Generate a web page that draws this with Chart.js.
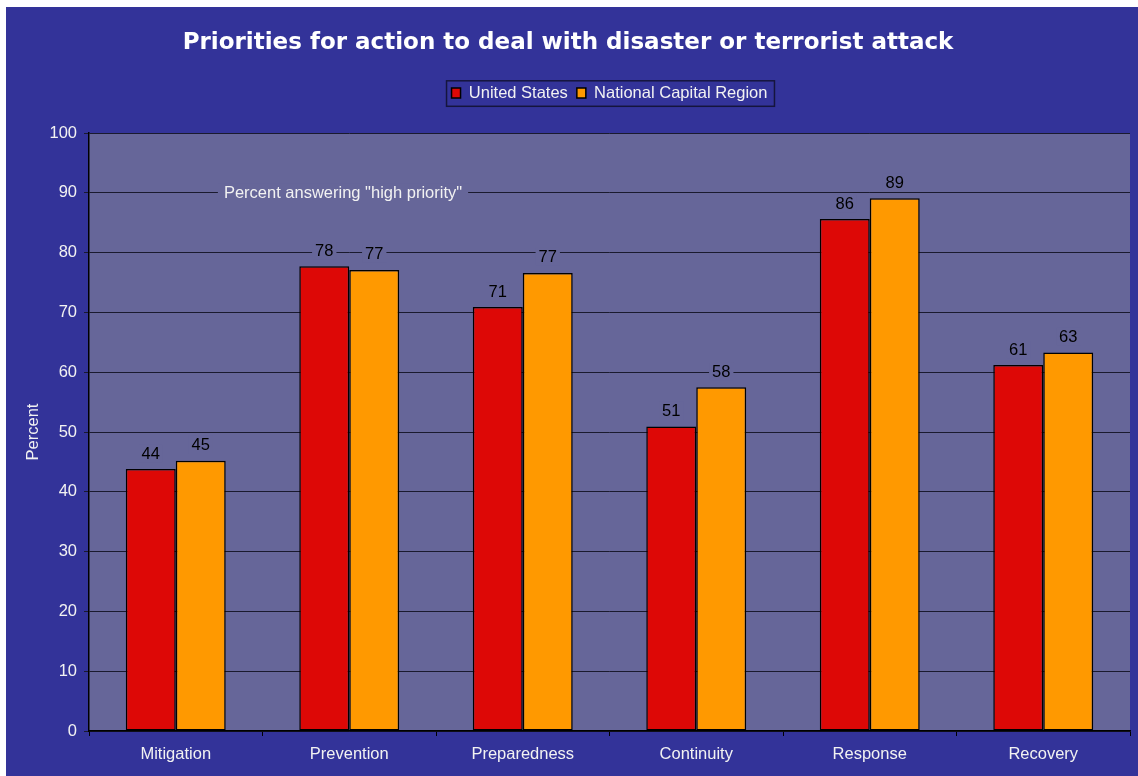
<!DOCTYPE html>
<html>
<head>
<meta charset="utf-8">
<title>Priorities for action</title>
<script src="https://cdn.jsdelivr.net/npm/chart.js@4.4.1/dist/chart.umd.min.js"></script>
<style>
  html, body { margin: 0; padding: 0; background: #fff; }
  #wrap { position: absolute; left: 6px; top: 7px; width: 1132px; height: 769px; }
</style>
</head>
<body>
<div id="wrap"><canvas id="grafik"></canvas></div>
<script>
// percent answering "high priority"
const categories = ['Mitigation', 'Prevention', 'Preparedness', 'Continuity', 'Response', 'Recovery'];
const unitedStates = [43.8, 77.7, 70.9, 50.9, 85.6, 61.2];
const capitalRegion = [45.2, 77.1, 76.6, 57.5, 89.1, 63.3];
const yTicks = [0, 10, 20, 30, 40, 50, 60, 70, 80, 90, 100];

const outerColor = '#333399';
const plotColor = '#666699';
const gridColor = '#1a1a2e';
const textFont = '"Liberation Sans", Arial, sans-serif';

// fill the outer and plot backgrounds
const backgrounds = {
  id: 'backgrounds',
  beforeDraw(chart) {
    const { ctx, chartArea: a } = chart;
    ctx.save();
    ctx.fillStyle = outerColor;
    ctx.fillRect(0, 0, chart.width, chart.height);
    ctx.fillStyle = plotColor;
    ctx.fillRect(a.left, a.top, a.right - a.left, a.bottom - a.top);
    ctx.restore();
  }
};

// value labels above bars + note line, each on a plot-coloured patch
const barLabels = {
  id: 'barLabels',
  afterDatasetsDraw(chart) {
    const ctx = chart.ctx;
    ctx.save();
    ctx.font = '16.5px ' + textFont;
    ctx.textAlign = 'center';
    ctx.textBaseline = 'middle';
    chart.data.datasets.forEach((ds, i) => {
      chart.getDatasetMeta(i).data.forEach((bar, j) => {
        const txt = String(Math.round(ds.data[j]));
        const w = ctx.measureText(txt).width;
        const y = bar.y - 16;
        ctx.fillStyle = plotColor;
        ctx.fillRect(bar.x - w / 2 - 3, y - 9, w + 6, 18);
        ctx.fillStyle = '#000';
        ctx.fillText(txt, bar.x, y + 1);
      });
    });

    const a = chart.chartArea;
    const note = 'Percent answering "high priority"';
    const nx = a.left + (a.right - a.left) * 0.244;
    const ny = chart.scales.y.getPixelForValue(90);
    const nw = ctx.measureText(note).width;
    ctx.fillStyle = plotColor;
    ctx.fillRect(nx - nw / 2 - 6, ny - 9, nw + 12, 18);
    ctx.fillStyle = '#f2f2f2';
    ctx.fillText(note, nx, ny + 1);
    ctx.restore();
  }
};

// thin frame round the legend
const legendFrame = {
  id: 'legendFrame',
  afterDraw(chart) {
    const boxes = chart.legend.legendHitBoxes;
    if (!boxes || !boxes.length) return;
    const first = boxes[0], last = boxes[boxes.length - 1];
    const ctx = chart.ctx;
    ctx.save();
    ctx.strokeStyle = '#15153d';
    ctx.lineWidth = 1.5;
    const x0 = first.left - 5, x1 = last.left + last.width + 7;
    const y0 = first.top - 4, y1 = first.top + first.height + 5;
    ctx.strokeRect(x0, y0, x1 - x0, y1 - y0);
    ctx.restore();
  }
};

new Chart(document.getElementById('grafik').getContext('2d'), {
  type: 'bar',
  data: {
    labels: categories,
    datasets: [
      {
        label: 'United States',
        data: unitedStates,
        backgroundColor: '#dd0806',
        borderColor: '#000',
        borderWidth: 1.5,
        borderSkipped: false
      },
      {
        label: 'National Capital Region',
        data: capitalRegion,
        backgroundColor: '#ff9900',
        borderColor: '#000',
        borderWidth: 1.5,
        borderSkipped: false
      }
    ]
  },
  options: {
    responsive: true,
    maintainAspectRatio: false,
    animation: false,
    categoryPercentage: 0.576,
    barPercentage: 1.0,
    layout: { padding: { left: 0, right: 8, top: 0, bottom: 0 } },
    plugins: {
      tooltip: { enabled: false },
      title: {
        display: true,
        text: 'Priorities for action to deal with disaster or terrorist attack',
        color: '#ffffff',
        font: { family: '"DejaVu Sans", Verdana, sans-serif', size: 23, weight: 'bold' },
        padding: { top: 22.2, bottom: 19 }
      },
      // empty band between legend and plot
      subtitle: {
        display: true,
        text: '',
        weight: 500,
        font: { size: 1 },
        padding: { top: 20.5, bottom: 0 }
      },
      legend: {
        display: true,
        fullSize: false,
        labels: {
          color: '#f2f2f2',
          font: { family: textFont, size: 16.5 },
          boxWidth: 9,
          boxHeight: 10,
          padding: 9
        }
      }
    },
    scales: {
      x: {
        afterFit(scale) { scale.height = 45; },
        grid: {
          offset: true,
          drawOnChartArea: false,
          drawTicks: true,
          tickLength: 5,
          color: '#000'
        },
        border: { color: '#000', width: 1.5 },
        ticks: {
          color: '#f2f2f2',
          font: { family: textFont, size: 16.5 },
          padding: 9
        }
      },
      y: {
        min: yTicks[0],
        max: yTicks[yTicks.length - 1],
        afterFit(scale) { scale.width = 83; },
        afterBuildTicks(scale) { scale.ticks = yTicks.map(v => ({ value: v })); },
        grid: {
          color: gridColor,
          lineWidth: 1,
          tickLength: 5
        },
        border: { color: '#000', width: 1.5 },
        ticks: {
          color: '#f2f2f2',
          font: { family: textFont, size: 16.5 },
          padding: 7
        },
        title: {
          display: true,
          text: 'Percent',
          color: '#f2f2f2',
          font: { family: textFont, size: 16.5 },
          padding: { top: 18, bottom: 0 }
        }
      }
    }
  },
  plugins: [backgrounds, barLabels, legendFrame]
});
</script>
</body>
</html>
